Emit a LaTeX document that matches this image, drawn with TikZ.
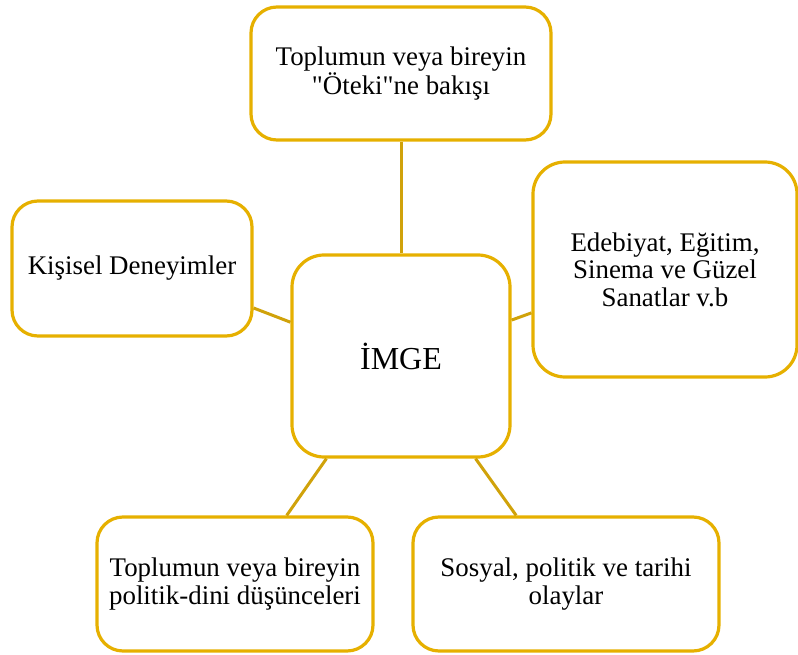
\documentclass[tikz,border=0pt]{standalone}
\usepackage{fontspec}
\setmainfont{Liberation Serif}
\definecolor{boxgold}{RGB}{230,176,0}
\definecolor{linegold}{RGB}{208,162,10}
\begin{document}
\begin{tikzpicture}[x=1pt, y=-1pt,
    main/.style = {draw=boxgold, line width=3.2pt, rounded corners=26pt, fill=white,
                   align=center, inner sep=0pt, font=\fontsize{26.9}{27.5}\selectfont},
    link/.style = {draw=linegold, line width=3pt}]
            \useasboundingbox (0,0) rectangle (798,655);
            \node[main, minimum width=218pt, minimum height=202pt, rounded corners=32pt,
                  font=\fontsize{32}{34}\selectfont] (0) at (401,356) {İMGE};
            \node[main, minimum width=300pt, minimum height=133pt] (1) at (401,73.5)  {Toplumun veya bireyin\\\textquotedbl Öteki\textquotedbl ne bakışı};
            \node[main, minimum width=240pt, minimum height=135pt] (2) at (132,268.5) {Kişisel Deneyimler};
            \node[main, minimum width=264pt, minimum height=215pt, rounded corners=32pt] (3) at (665,269.5) {Edebiyat, Eğitim,\\Sinema ve Güzel\\Sanatlar v.b};
            \node[main, minimum width=276pt, minimum height=134pt] (4) at (235,584) {Toplumun veya bireyin\\politik-dini düşünceleri};
            \node[main, minimum width=306pt, minimum height=134pt] (5) at (566,584) {Sosyal, politik ve tarihi\\olaylar};

            \draw[link] (1.south) -- (0.north);
            \draw[link] (2.-18) -- (0.163);
            \draw[link] (0.18) -- (3.198);
            \draw[link] (0.234) -- (4.53);
            \draw[link] (0.-54) -- (5.126);
\end{tikzpicture}
\end{document}
